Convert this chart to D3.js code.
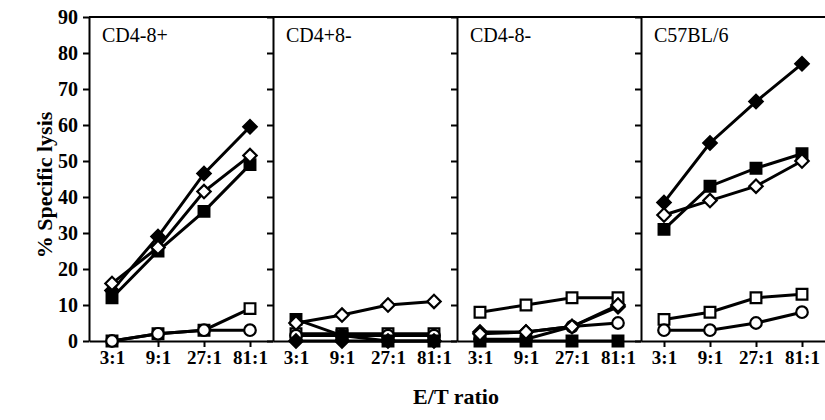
<!DOCTYPE html>
<html>
<head>
<meta charset="utf-8">
<script src="https://cdn.jsdelivr.net/npm/d3@7"></script>
<style>
  body { margin: 0; background: #fff; }
  text { font-family: "Liberation Serif", "Times New Roman", serif; fill: #000; }
</style>
</head>
<body>
<script>
// tick labels and panels
var ratios = ["3:1", "9:1", "27:1", "81:1"];
var panelNames = ["CD4-8+", "CD4+8-", "CD4-8-", "C57BL/6"];
var yTicks = [0, 10, 20, 30, 40, 50, 60, 70, 80, 90];

// % specific lysis, one row per panel, one value per E/T ratio
var openSquare = [
  [0, 2, 3, 9],
  [2, 2, 2, 2],
  [8, 10, 12, 12],
  [6, 8, 12, 13]
];
var openCircle = [
  [0, 2, 3, 3],
  [1.5, 1.5, 1.5, 1.5],
  [0.5, 0.5, 4, 5],
  [3, 3, 5, 8]
];
var filledSquare = [
  [12, 25, 36, 49],
  [6, 1.5, 0, 0],
  [0, 0, 0, 0],
  [31, 43, 48, 52]
];
var filledDiamond = [
  [14, 29, 46.5, 59.5],
  [0, 0, 0, 0],
  [2.5, 2.5, 4, 9.5],
  [38.5, 55, 66.5, 77]
];
var openDiamond = [
  [16, 26, 41.5, 51.5],
  [5, 7.2, 10, 11],
  [2, 2.5, 4, 10],
  [35, 39, 43, 50]
];

var svgWidth = 825;
var svgHeight = 420;

var margin = { top: 17, left: 89 };
var panelWidth = 184;
var height = 324;

var svg = d3.select("body")
  .append("svg")
  .attr("width", svgWidth)
  .attr("height", svgHeight);

var yScale = d3.scaleLinear()
  .domain([0, 90])
  .range([height, 0]);

var xScale = d3.scalePoint()
  .domain(ratios)
  .range([0, panelWidth])
  .padding(0.5);

var chartGroup = svg.append("g")
  .attr("transform", `translate(${margin.left}, ${margin.top})`);

// top border across all panels
chartGroup.append("line")
  .attr("x1", 0)
  .attr("x2", svgWidth - margin.left)
  .attr("y1", 0)
  .attr("y2", 0)
  .attr("stroke", "#000")
  .attr("stroke-width", 2);

// series drawing order: open ones under filled ones
var seriesList = [
  { values: openSquare, shape: "square", fill: "#fff" },
  { values: openCircle, shape: "circle", fill: "#fff" },
  { values: filledSquare, shape: "square", fill: "#000" },
  { values: filledDiamond, shape: "diamond", fill: "#000" },
  { values: openDiamond, shape: "diamond", fill: "#fff" }
];

var symbols = {
  square: d3.symbol().type(d3.symbolSquare).size(115),
  circle: d3.symbol().type(d3.symbolCircle).size(105),
  diamond: d3.symbol().type(d3.symbolSquare).size(90)
};

var line = d3.line()
  .x((d, i) => xScale(ratios[i]))
  .y(d => yScale(d));

panelNames.forEach(function(name, p) {
  var panel = chartGroup.append("g")
    .attr("transform", `translate(${p * panelWidth}, 0)`);

  // y axis, labels only on the first panel
  var leftAxis = d3.axisLeft(yScale)
    .tickValues(yTicks)
    .tickSize(6)
    .tickSizeOuter(0)
    .tickPadding(5)
    .tickFormat(p === 0 ? d3.format("d") : "");

  panel.append("g")
    .call(leftAxis)
    .call(g => g.selectAll("path, line").attr("stroke-width", 2))
    .call(g => g.selectAll("text")
      .attr("font-size", "20px")
      .attr("font-weight", "bold")
      .attr("font-family", "Liberation Serif"));

  var bottomAxis = d3.axisBottom(xScale)
    .tickSize(6)
    .tickSizeOuter(0)
    .tickPadding(4);

  panel.append("g")
    .attr("transform", `translate(0, ${height})`)
    .call(bottomAxis)
    .call(g => g.selectAll("path, line").attr("stroke-width", 2))
    .call(g => g.selectAll("text")
      .attr("font-size", "19px")
      .attr("font-weight", "bold")
      .attr("font-family", "Liberation Serif"));

  panel.append("text")
    .attr("x", 13)
    .attr("y", 25)
    .attr("font-size", "20px")
    .text(name);

  seriesList.forEach(function(s) {
    var vals = s.values[p];

    panel.append("path")
      .datum(vals)
      .attr("d", line)
      .attr("fill", "none")
      .attr("stroke", "#000")
      .attr("stroke-width", 3);

    panel.selectAll(null)
      .data(vals)
      .enter()
      .append("path")
      .attr("d", symbols[s.shape])
      .attr("transform", (d, i) => `translate(${xScale(ratios[i])}, ${yScale(d)})` +
        (s.shape === "diamond" ? " rotate(45)" : ""))
      .attr("fill", s.fill)
      .attr("stroke", "#000")
      .attr("stroke-width", 2.2);
  });
});

// axis titles
svg.append("text")
  .attr("transform", "rotate(-90)")
  .attr("x", -185)
  .attr("y", 52)
  .attr("text-anchor", "middle")
  .attr("font-size", "22px")
  .attr("font-weight", "bold")
  .text("% Specific lysis");

svg.append("text")
  .attr("x", 456)
  .attr("y", 404)
  .attr("text-anchor", "middle")
  .attr("font-size", "22px")
  .attr("font-weight", "bold")
  .text("E/T ratio");
</script>
</body>
</html>
